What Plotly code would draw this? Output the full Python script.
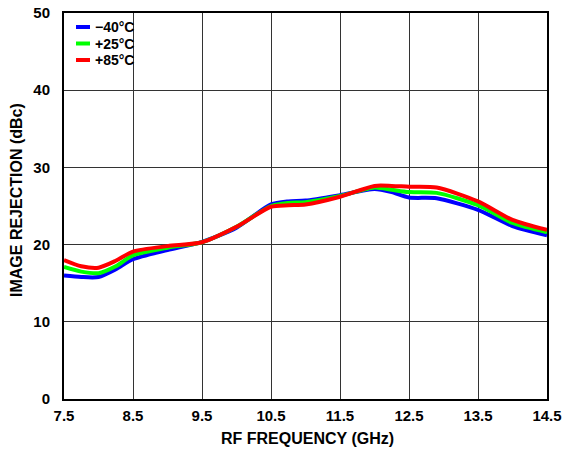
import plotly.graph_objects as go

# RF frequency sample points (GHz)
freq = [7.5, 7.75, 8.0, 8.25, 8.5, 9.0, 9.5, 10.0, 10.5, 10.75, 11.0, 11.5,
        12.0, 12.25, 12.5, 12.9, 13.5, 14.0, 14.5]

# Image rejection (dBc) per temperature
rej_m40 = [16.0, 15.8, 15.8, 16.8, 18.1, 19.3, 20.35, 22.2, 25.2, 25.6, 25.7, 26.4,
           27.2, 26.8, 26.1, 26.0, 24.5, 22.4, 21.2]
rej_p25 = [17.1, 16.5, 16.3, 17.2, 18.6, 19.6, 20.3, 22.3, 25.0, 25.4, 25.5, 26.3,
           27.4, 27.1, 26.8, 26.7, 25.1, 22.8, 21.6]
rej_p85 = [18.0, 17.2, 17.0, 17.9, 19.1, 19.8, 20.3, 22.3, 24.9, 25.1, 25.2, 26.2,
           27.6, 27.6, 27.5, 27.4, 25.6, 23.2, 21.9]

series_names = ["\u221240\u00b0C", "+25\u00b0C", "+85\u00b0C"]
series_colors = ["#0000ff", "#00ff00", "#ff0000"]
series_values = [rej_m40, rej_p25, rej_p85]

x_ticks = [7.5, 8.5, 9.5, 10.5, 11.5, 12.5, 13.5, 14.5]
y_ticks = [0, 10, 20, 30, 40, 50]

FONT = "Liberation Sans, Arial, sans-serif"

fig = go.Figure()
for name, color, vals in zip(series_names, series_colors, series_values):
    fig.add_trace(go.Scatter(
        x=freq, y=vals, mode="lines", name=name,
        line=dict(color=color, width=4, shape="spline", smoothing=0.7),
        showlegend=False,
    ))

# Page / plot-area geometry in pixels
W, H = 563, 450
ML, MR, MT, MB = 64, 16, 13, 51
pw, ph = W - ML - MR, H - MT - MB


def px_x(px):
    return (px - ML) / pw


def px_y(py):
    return 1 - (py - MT) / ph


# Compact legend in the upper-left corner of the plot
for i, (name, color) in enumerate(zip(series_names, series_colors)):
    ypx = 27 + i * 16.5
    fig.add_shape(type="line", xref="paper", yref="paper",
                  x0=px_x(76), x1=px_x(90), y0=px_y(ypx), y1=px_y(ypx),
                  line=dict(color=color, width=4))
    fig.add_annotation(xref="paper", yref="paper", x=px_x(94), y=px_y(ypx),
                       text="<b>%s</b>" % name, showarrow=False,
                       xanchor="left", yanchor="middle", borderpad=0,
                       font=dict(family=FONT, size=14, color="black"))

# Axis titles
fig.add_annotation(xref="paper", yref="paper", x=px_x(307), y=px_y(439),
                   text="<b>RF FREQUENCY (GHz)</b>", showarrow=False,
                   xanchor="center", yanchor="middle",
                   font=dict(family=FONT, size=16, color="black"))
fig.add_annotation(xref="paper", yref="paper", x=px_x(17), y=px_y(200),
                   text="<b>IMAGE REJECTION (dBc)</b>", showarrow=False,
                   textangle=-90, xanchor="center", yanchor="middle",
                   font=dict(family=FONT, size=16, color="black"))

fig.update_layout(
    width=W, height=H,
    margin=dict(l=ML, r=MR, t=MT, b=MB, autoexpand=False),
    paper_bgcolor="white", plot_bgcolor="white",
    font=dict(family=FONT, size=15, color="black"),
)
fig.update_xaxes(
    range=[7.5, 14.5], tickvals=x_ticks,
    ticktext=["<b>%g</b>" % v for v in x_ticks],
    showgrid=True, gridcolor="#333333", gridwidth=1.3,
    showline=True, linecolor="black", linewidth=2, mirror=True,
    zeroline=False, ticks="", ticklabelstandoff=2, automargin=False,
    tickfont=dict(family=FONT, size=15),
)
fig.update_yaxes(
    range=[0, 50], tickvals=y_ticks,
    ticktext=["<b>%g</b>" % v for v in y_ticks],
    showgrid=True, gridcolor="#333333", gridwidth=1.3,
    showline=True, linecolor="black", linewidth=2, mirror=True,
    zeroline=False, ticks="", ticklabelstandoff=9, automargin=False,
    tickfont=dict(family=FONT, size=15),
)

fig.write_html("out.html")
